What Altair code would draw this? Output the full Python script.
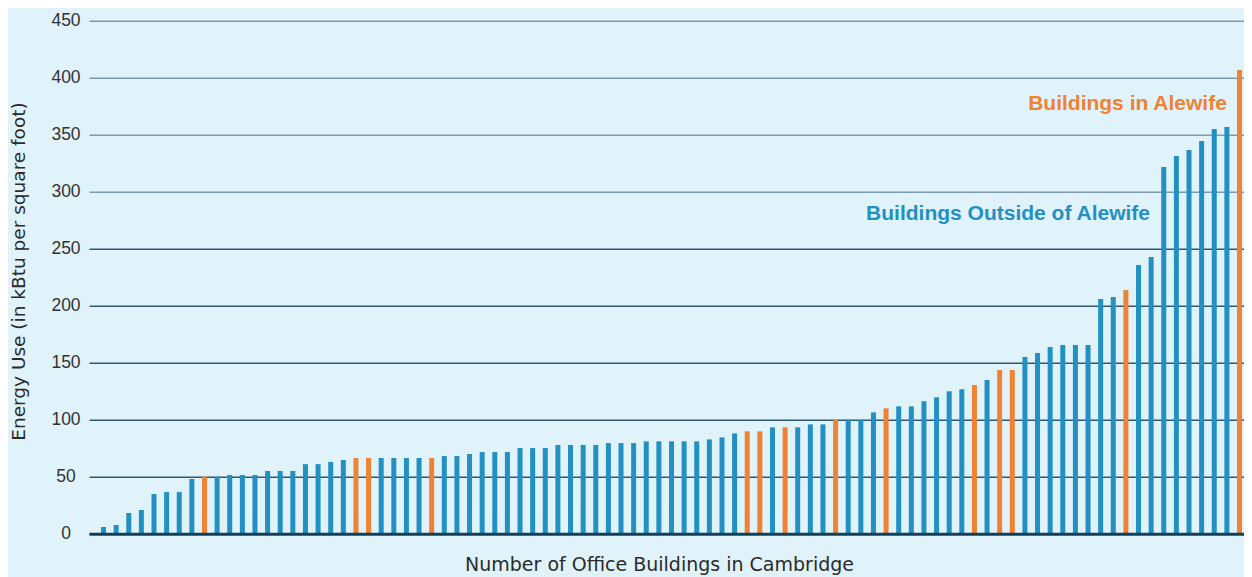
import altair as alt
import pandas as pd

# Energy use (kBtu per square foot) for each office building, sorted ascending
energy_use = [
    5.8, 7.6, 18.1, 20.8, 34.8, 36.5, 36.5, 48, 50, 50,
    51.5, 51.5, 51.5, 55, 55, 55, 61, 61, 63, 64.6,
    66.4, 66.4, 66.4, 66.4, 66.4, 66.4, 66.4, 68.1, 68.1, 69.9,
    71.6, 71.6, 71.6, 75.1, 75.1, 75.1, 77.8, 77.8, 77.8, 77.8,
    79.5, 79.5, 79.5, 81, 81, 81, 81, 81, 82.7, 84.5,
    88, 89.8, 89.8, 93.3, 93.3, 93.3, 95.9, 95.9, 100, 100,
    100, 106.4, 110, 111.7, 111.7, 116.1, 119.6, 124.9, 126.7, 130.4,
    134.8, 143.6, 143.6, 155, 158.5, 163.7, 165.5, 165.5, 165.5, 205.8,
    207.6, 213.7, 235.7, 242.7, 321.6, 331.3, 336.5, 344.4, 355, 356.7,
    406.7, 417.5,
]
# Positions (1-based) of the buildings located in Alewife
alewife_buildings = [9, 21, 22, 27, 52, 53, 55, 59, 63, 70, 72, 73, 82, 91, 92]

groups = ["Buildings Outside of Alewife", "Buildings in Alewife"]
y_ticks = [0, 50, 100, 150, 200, 250, 300, 350, 400, 450]

BLUE = "#2290c2"
ORANGE = "#ef8233"
BG = "#e0f2fa"

building = list(range(1, len(energy_use) + 1))
location = [groups[1] if b in alewife_buildings else groups[0] for b in building]
df = pd.DataFrame({"building": building, "energy": energy_use, "location": location})

x_scale = alt.Scale(domain=[-0.149, 91.357], nice=False, zero=False, padding=0)
y_scale = alt.Scale(domain=[0, 450], nice=False)

bars = alt.Chart(df).mark_bar(size=5, clip=True).encode(
    x=alt.X(
        "building:Q",
        scale=x_scale,
        axis=alt.Axis(
            title="Number of Office Buildings in Cambridge",
            labels=False, ticks=False, grid=False,
            domainColor="#123f5a", domainWidth=3,
            titleX=570, titleY=37, titleAlign="center", titleBaseline="alphabetic",
            titleFont="DejaVu Sans", titleFontSize=19, titleFontWeight="normal",
            titleColor="#2b2b2b", zindex=1,
        ),
    ),
    y=alt.Y(
        "energy:Q",
        scale=y_scale,
        axis=alt.Axis(
            values=y_ticks,
            title="Energy Use (in kBtu per square foot)",
            domain=False, ticks=False,
            grid=True,
            gridColor={"condition": {"test": "datum.value >= 300", "value": "#7d9bb0"}, "value": "#2e5873"},
            gridWidth=1.6,
            labelAlign="center", labelBaseline="middle", labelPadding=23.5,
            labelFont="Liberation Sans", labelFontSize=17.5, labelColor="#333333",
            titleX=-65, titleY=250.3, titleAngle=270, titleAlign="center",
            titleBaseline="alphabetic",
            titleFont="DejaVu Sans", titleFontSize=18.5, titleFontWeight="normal",
            titleColor="#2b2b2b",
        ),
    ),
    color=alt.Color(
        "location:N",
        scale=alt.Scale(domain=groups, range=[BLUE, ORANGE]),
        legend=None,
    ),
)

lab_in = alt.Chart(pd.DataFrame({"t": [groups[1]]})).mark_text(
    font="Liberation Sans", fontWeight="bold", fontSize=21, color=ORANGE,
    align="right", baseline="alphabetic",
).encode(x=alt.datum(90.0), y=alt.datum(371.7), text="t:N")

lab_out = alt.Chart(pd.DataFrame({"t": [groups[0]]})).mark_text(
    font="Liberation Sans", fontWeight="bold", fontSize=21, color=BLUE,
    align="right", baseline="alphabetic",
).encode(x=alt.datum(83.91), y=alt.datum(275.6), text="t:N")

chart = alt.layer(bars, lab_in, lab_out).properties(
    width=1155,
    height=513,
    background=BG,
    padding={"left": 81, "top": 12.7, "right": 0, "bottom": 43.3},
    autosize=alt.AutoSizeParams(type="none"),
).configure_view(stroke=None)

chart.save("out.html", embed_options={"renderer": "svg", "actions": False})
